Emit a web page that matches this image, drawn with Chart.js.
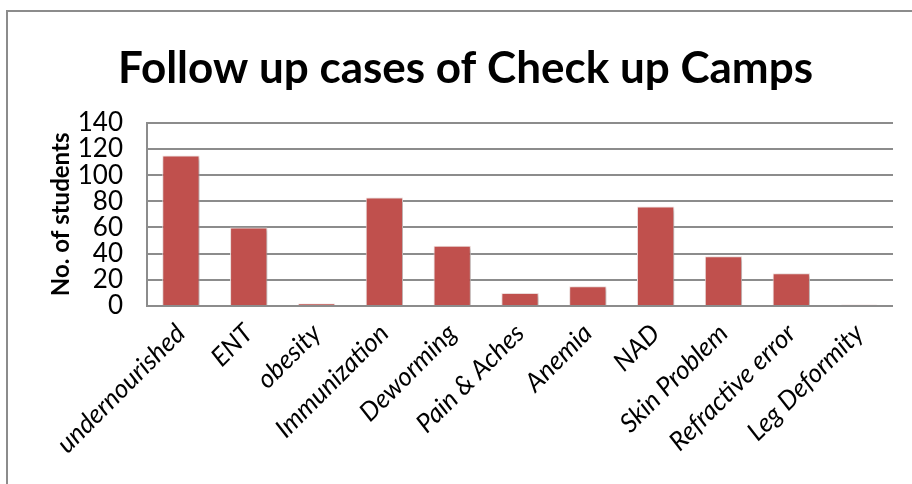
<!DOCTYPE html>
<html>
<head>
<meta charset="utf-8">
<script src="https://cdn.jsdelivr.net/npm/chart.js@4.4.1/dist/chart.umd.min.js"></script>
<style>
  html, body { margin: 0; padding: 0; background: #fff; overflow: hidden; }
  #wrap { position: absolute; left: 0; top: 0; width: 912px; height: 484px; }
  #frame { position: absolute; left: 6px; top: 10px; width: 940px; height: 520px; border: 2px solid #8c8c8c; box-sizing: border-box; pointer-events: none; }
</style>
</head>
<body>
<div id="wrap"><canvas id="c" width="912" height="484"></canvas></div>
<div id="frame"></div>
<script>
const categories = ["undernourished", "ENT", "obesity", "Immunization", "Deworming", "Pain & Aches", "Anemia", "NAD", "Skin Problem", "Refractive error", "Leg Deformity"];
const students = [115, 60, 2, 83, 46, 10, 15, 76, 38, 25, 1];
const yTicks = [0, 20, 40, 60, 80, 100, 120, 140];
const chartTitle = "Follow up cases of Check up Camps";
const yTitle = "No. of students";

const shadowPlugin = {
  id: 'barShadow',
  beforeDatasetDraw(chart) {
    const ctx = chart.ctx;
    ctx.save();
    ctx.shadowColor = 'rgba(0,0,0,0.28)';
    ctx.shadowBlur = 4;
    ctx.shadowOffsetX = 2;
    ctx.shadowOffsetY = 2;
  },
  afterDatasetDraw(chart) {
    chart.ctx.restore();
  }
};

new Chart(document.getElementById('c'), {
  type: 'bar',
  data: {
    labels: categories,
    datasets: [{
      data: students,
      backgroundColor: '#C0504D',
      borderColor: '#f4e2e1',
      borderWidth: 1,
      categoryPercentage: 1.0,
      barPercentage: 0.55
    }]
  },
  plugins: [shadowPlugin],
  options: {
    responsive: false,
    animation: false,
    layout: { padding: { left: 38, right: 19, top: 0, bottom: 0 } },
    plugins: {
      legend: { display: false },
      tooltip: { enabled: false },
      title: {
        display: true,
        text: chartTitle,
        color: '#000',
        font: { family: 'Lato', size: 44, weight: 'bold', lineHeight: 1.2 },
        padding: { top: 42, bottom: 28 }
      }
    },
    scales: {
      x: {
        grid: { display: false, drawTicks: false },
        border: { display: false },
        ticks: {
          color: '#000',
          font: { family: 'Lato', size: 26, style: 'italic' },
          minRotation: 45,
          maxRotation: 45,
          padding: 12,
          autoSkip: false
        },
        afterFit(scale) { scale.height = 178; }
      },
      y: {
        min: 0,
        max: 140,
        afterBuildTicks(scale) { scale.ticks = yTicks.map(v => ({ value: v })); },
        grid: { color: '#8c8c8c', lineWidth: 2, drawTicks: false },
        border: { display: true, color: '#8c8c8c', width: 2 },
        ticks: {
          color: '#000',
          font: { family: 'Lato', size: 26 },
          padding: 24,
          autoSkip: false
        },
        title: {
          display: true,
          text: yTitle,
          color: '#000',
          font: { family: 'Lato', size: 24, weight: 'bold', lineHeight: 1.2 },
          padding: { top: 9, bottom: 0 }
        },
        afterFit(scale) { scale.width = 109; }
      }
    }
  }
});
</script>
</body>
</html>
